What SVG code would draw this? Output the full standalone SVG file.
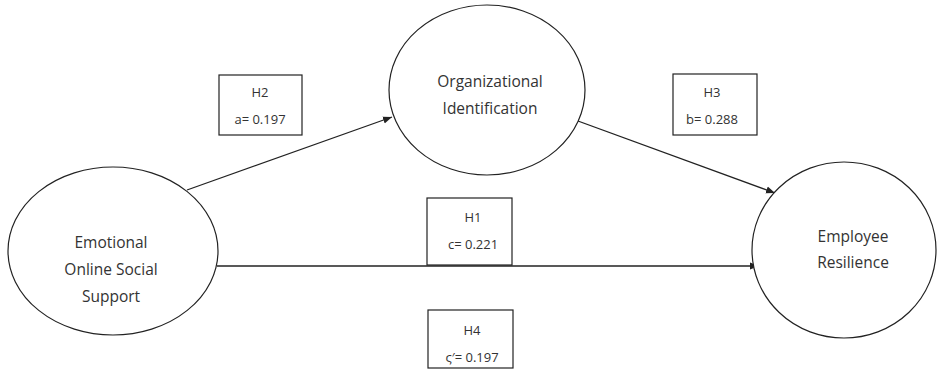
<svg xmlns="http://www.w3.org/2000/svg" width="942" height="375" viewBox="0 0 942 375">
<style>
.node{fill:#fff;stroke:#222;stroke-width:1.2}
.box{fill:#fff;stroke:#222;stroke-width:1.2}
.lbl{font-family:"Open Sans","Liberation Sans",sans-serif;font-size:15.5px;fill:#333;text-anchor:middle}
.sm{font-family:"Open Sans","Liberation Sans",sans-serif;font-size:13px;fill:#333;text-anchor:middle}
.conn{stroke:#222;stroke-width:1.3;fill:none;marker-end:url(#ah)}
</style>
<defs>
<marker id="ah" viewBox="0 0 10 10" refX="10" refY="5" markerWidth="9" markerHeight="9" markerUnits="userSpaceOnUse" orient="auto">
<path d="M0,1 L10,5 L0,9 z" fill="#222"/>
</marker>
</defs>
<rect width="942" height="375" fill="#fff"/>
<g id="connectors">
<line class="conn" x1="187" y1="190" x2="392" y2="117"/>
<line class="conn" x1="567" y1="117" x2="775" y2="193"/>
<line class="conn" x1="217" y1="266" x2="759" y2="266"/>
</g>
<g id="eoss">
<ellipse class="node" cx="113" cy="251" rx="105" ry="84"/>
<text class="lbl" x="111" y="248">Emotional</text>
<text class="lbl" x="111" y="275">Online Social</text>
<text class="lbl" x="111" y="302">Support</text>
</g>
<g id="oi">
<ellipse class="node" cx="487" cy="90" rx="98" ry="85"/>
<text class="lbl" x="490" y="87">Organizational</text>
<text class="lbl" x="490" y="114">Identification</text>
</g>
<g id="er">
<ellipse class="node" cx="844" cy="250" rx="92" ry="88"/>
<text class="lbl" x="853" y="242">Employee</text>
<text class="lbl" x="853" y="268">Resilience</text>
</g>
<g id="h2">
<rect class="box" x="219" y="75" width="83" height="60"/>
<text class="sm" x="260" y="97">H2</text>
<text class="sm" x="260" y="124">a= 0.197</text>
</g>
<g id="h3">
<rect class="box" x="673" y="74" width="84" height="61"/>
<text class="sm" x="712" y="97">H3</text>
<text class="sm" x="712" y="124">b= 0.288</text>
</g>
<g id="h1">
<rect class="box" x="427" y="198" width="85" height="67"/>
<text class="sm" x="473" y="222">H1</text>
<text class="sm" x="473" y="249">c= 0.221</text>
</g>
<g id="h4">
<rect class="box" x="428" y="310" width="85" height="58"/>
<text class="sm" x="472" y="335">H4</text>
<text class="sm" x="472" y="362">ς′= 0.197</text>
</g>
</svg>
